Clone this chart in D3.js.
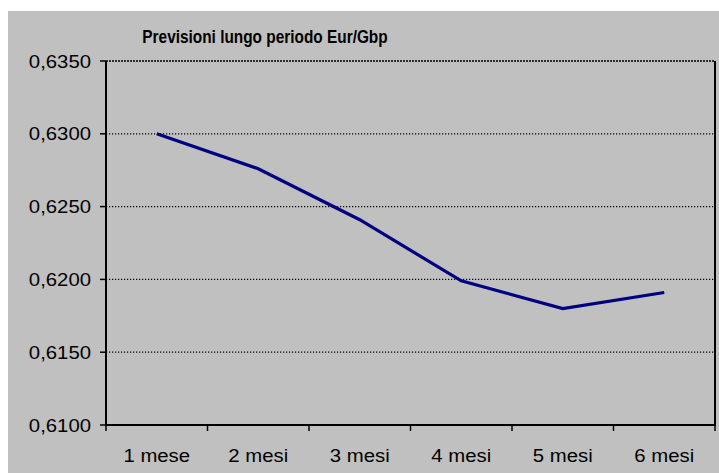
<!DOCTYPE html>
<html>
<head>
<meta charset="utf-8">
<script src="https://cdn.jsdelivr.net/npm/d3@7"></script>
<style>
  body { margin: 0; background: #fff; }
  text { font-family: Arial, "Liberation Sans", sans-serif; fill: #000; }
</style>
</head>
<body>
<div id="chart"></div>
<script>
const months = ['1 mese', '2 mesi', '3 mesi', '4 mesi', '5 mesi', '6 mesi']
const eurGbp = [0.6300, 0.6276, 0.6241, 0.6199, 0.6180, 0.6191]
const yTicks = [0.6100, 0.6150, 0.6200, 0.6250, 0.6300, 0.6350]

const W = 719, H = 473
const svg = d3.select('#chart').append('svg')
  .attr('width', W)
  .attr('height', H)

// grey chart area
svg.append('rect')
  .attr('x', 8).attr('y', 11)
  .attr('width', W - 8).attr('height', H - 11)
  .attr('fill', '#c0c0c0')

const pLeft = 106, pRight = 715, pTop = 61, pBottom = 425

const x = d3.scaleBand().domain(months).range([pLeft, pRight])
const y = d3.scaleLinear().domain([0.6100, 0.6350]).range([pBottom, pTop])
const fmt = d => d3.format('.4f')(d).replace('.', ',')

// gridlines
svg.append('g').selectAll('line')
  .data(yTicks.filter(d => d > 0.6100))
  .join('line')
  .attr('x1', pLeft).attr('x2', pRight)
  .attr('y1', d => y(d)).attr('y2', d => y(d))
  .attr('stroke', '#000')
  .attr('stroke-width', d => d === 0.6350 ? 1.6 : 1.2)
  .attr('stroke-dasharray', d => d === 0.6350 ? '2,1' : '1.2,1.8')

// y axis ticks + labels
const ya = svg.append('g')
ya.selectAll('line').data(yTicks).join('line')
  .attr('x1', pLeft - 6).attr('x2', pLeft)
  .attr('y1', d => y(d)).attr('y2', d => y(d))
  .attr('stroke', '#000').attr('stroke-width', 1.5)
ya.selectAll('text').data(yTicks).join('text')
  .attr('transform', d => `translate(91,${y(d) + 6.5}) scale(1.13,1)`)
  .attr('text-anchor', 'end')
  .style('font-size', '18px')
  .text(fmt)

// x axis ticks + labels
const xa = svg.append('g')
xa.selectAll('line').data(months.concat(['end'])).join('line')
  .attr('x1', (d, i) => pLeft + i * x.bandwidth())
  .attr('x2', (d, i) => pLeft + i * x.bandwidth())
  .attr('y1', pBottom).attr('y2', pBottom + 6)
  .attr('stroke', '#000').attr('stroke-width', 1.5)
xa.selectAll('text').data(months).join('text')
  .attr('transform', d => `translate(${x(d) + x.bandwidth() / 2},461.5) scale(1.13,1)`)
  .attr('text-anchor', 'middle')
  .style('font-size', '18px')
  .text(d => d)

// axis/border lines
svg.append('line')
  .attr('x1', pLeft).attr('x2', pLeft).attr('y1', pTop).attr('y2', pBottom + 1)
  .attr('stroke', '#000').attr('stroke-width', 2)
svg.append('line')
  .attr('x1', pLeft).attr('x2', pRight + 1).attr('y1', pBottom).attr('y2', pBottom)
  .attr('stroke', '#000').attr('stroke-width', 2)
svg.append('line')
  .attr('x1', pRight).attr('x2', pRight).attr('y1', pTop).attr('y2', pBottom)
  .attr('stroke', '#000').attr('stroke-width', 2)

// series line
const line = d3.line()
  .x((d, i) => x(months[i]) + x.bandwidth() / 2)
  .y(d => y(d))
svg.append('path')
  .datum(eurGbp)
  .attr('d', line)
  .attr('fill', 'none')
  .attr('stroke', '#000080')
  .attr('stroke-width', 3.2)

// title
svg.append('text')
  .attr('transform', 'translate(265,43) scale(0.88,1)')
  .attr('text-anchor', 'middle')
  .style('font-size', '17.5px')
  .style('font-weight', 'bold')
  .text('Previsioni lungo periodo Eur/Gbp')
</script>
</body>
</html>
